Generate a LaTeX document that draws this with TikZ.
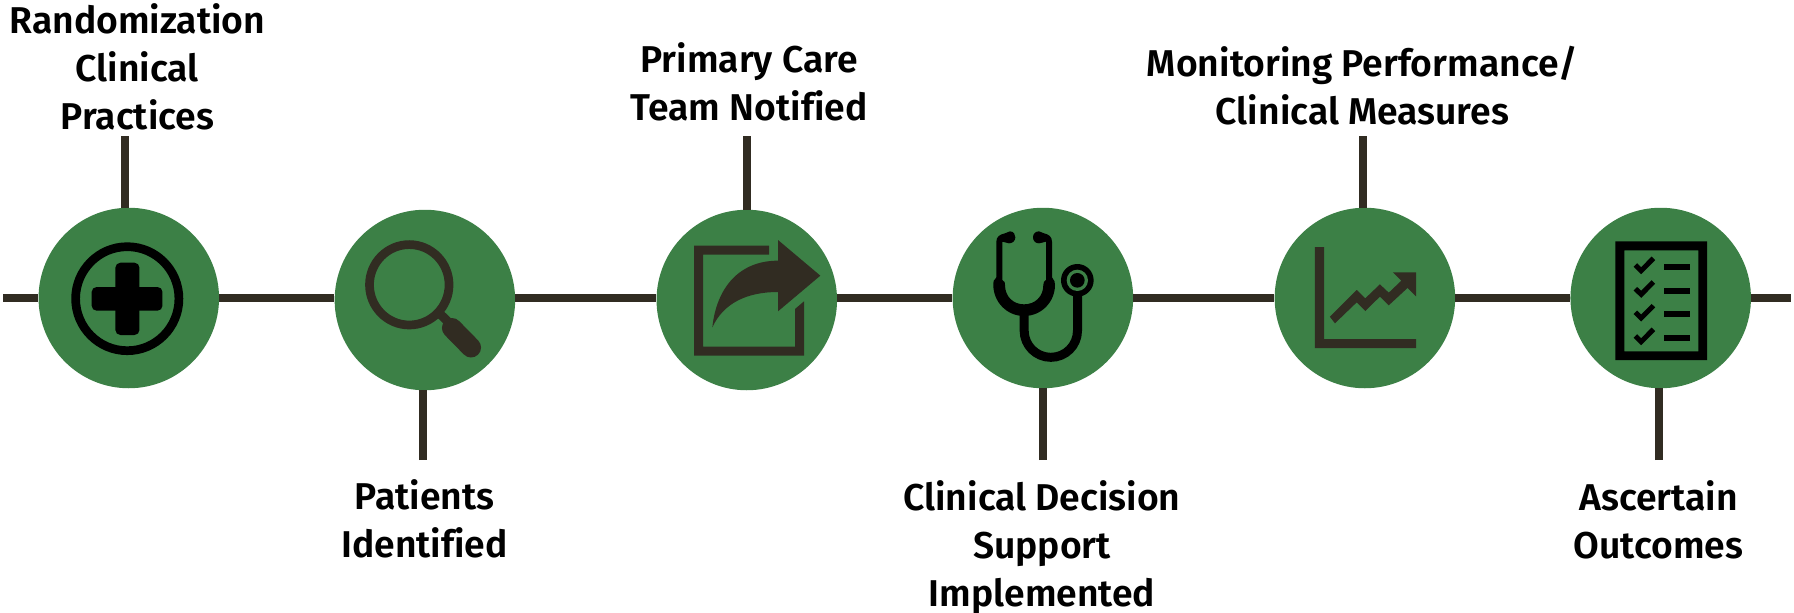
\documentclass[tikz,border=0pt]{standalone}
\usepackage{fontspec}
\setmainfont[Ligatures=NoCommon]{Fira Sans SemiBold}
\usetikzlibrary{shapes.geometric}
\definecolor{grn}{RGB}{60,128,70}
\definecolor{drk}{RGB}{49,44,34}
\tikzset{
  stop/.style={circle,fill=grn,inner sep=0pt,minimum size=180.5},
  conn/.style={draw=drk,line width=8pt,line cap=butt},
  lab/.style={align=center,inner sep=0pt,font=\fontsize{37.3}{48}\selectfont,text=black},
  drkfill/.style={fill=drk,draw=none},
  blkfill/.style={fill=black,draw=none}
}
\begin{document}
\begin{tikzpicture}[x=1pt,y=1pt,yscale=-1]
\useasboundingbox (0,0) rectangle (1794,613);
\node[stop] (c1) at (128.8,298) {};
\node[stop] (c2) at (424.9,300) {};
\node[stop] (c3) at (746.8,300) {};
\node[stop] (c4) at (1042.9,298) {};
\node[stop] (c5) at (1364.9,298) {};
\node[stop] (c6) at (1660.7,298) {};
\coordinate (ls) at (3,298);
\coordinate (le) at (1790.6,298);
\coordinate (t1) at (125,136);
\coordinate (t2) at (422.9,460);
\coordinate (t3) at (746.7,136);
\coordinate (t4) at (1042.7,460);
\coordinate (t5) at (1362.9,136);
\coordinate (t6) at (1658.7,460);
\draw[conn] (ls) -- (c1.west);
\draw[conn] (c1.east) -- (c1.east -| c2.west);
\draw[conn] (c1.east -| c2.east) -- (c1.east -| c3.west);
\draw[conn] (c1.east -| c3.east) -- (c4.west);
\draw[conn] (c4.east) -- (c5.west);
\draw[conn] (c5.east) -- (c6.west);
\draw[conn] (c6.east) -- (le);
\draw[conn] (t1) -- (t1 |- c1.north);
\draw[conn] (t2) -- (t2 |- c2.south);
\draw[conn] (t3) -- (t3 |- c3.north);
\draw[conn] (t4) -- (t4 |- c4.south);
\draw[conn] (t5) -- (t5 |- c5.north);
\draw[conn] (t6) -- (t6 |- c6.south);
\begin{scope}[xscale=1.033]
% icon 1: medical cross
\draw[black,line width=8.7pt] (123.2,298.7) ellipse [x radius=50,y radius=52];
\fill[black,rounded corners=5pt] (111.7,262.7) rectangle (135,335);
\fill[black,rounded corners=5pt] (88.7,287) rectangle (157.3,310.7);
% icon 2: magnifier
\draw[drk,line width=8.7pt] (396.2,284.8) ellipse [x radius=38.5,y radius=40.2];
\draw[drk,line width=9pt] (426,314) -- (437,325);
\draw[drk,line width=20pt,line cap=round] (437.5,328) -- (456,347.5);
\end{scope}
% icon 3: share
\begin{scope}[shift={(640,190)},scale=1/3]
\fill[drkfill] (387,167) -- (162,167) -- (162,497) -- (492,497) -- (492,334) -- (465,357) -- (465,470) -- (189,470) -- (189,194) -- (387,194) -- cycle;
\fill[drkfill] (414,150) -- (541,257) -- (414,364) -- (414,306) .. controls (320,306) and (250,340) .. (217,412) .. controls (230,290) and (300,212) .. (414,212) -- cycle;
% icon 4: stethoscope
\fill[blkfill] (1060,280) .. controls (1060,265) and (1069,270) .. (1069,262) -- (1069,155) .. controls (1069,140) and (1080,133) .. (1095,130) -- (1110,124) .. controls (1122,124) and (1126,135) .. (1126,142) .. controls (1126,152) and (1118,160) .. (1107,160) .. controls (1098,160) and (1095,155) .. (1087,155) -- (1087,270) .. controls (1095,272) and (1095,280) .. (1095,285) .. controls (1095,320) and (1120,343) .. (1152,343) .. controls (1185,343) and (1210,320) .. (1210,285) .. controls (1210,278) and (1212,272) .. (1218,270) -- (1218,155) .. controls (1210,155) and (1207,160) .. (1197,160) .. controls (1186,160) and (1179,152) .. (1179,142) .. controls (1179,132) and (1186,124) .. (1197,124) -- (1212,130) .. controls (1226,133) and (1236,140) .. (1236,155) -- (1236,262) .. controls (1236,270) and (1245,265) .. (1245,285) .. controls (1245,335) and (1205,378) .. (1152,378) .. controls (1100,378) and (1060,335) .. (1060,285) -- cycle;
\draw[black,line width=9pt] (1152.5,370) -- (1152.5,422) arc[start angle=180,end angle=0,radius=80] -- (1312.5,300);
\fill[black] (1312,271) circle[radius=49];
\fill[grn] (1312,271) circle[radius=32];
\fill[black] (1312,271) circle[radius=22];
\end{scope}
% icon 5: chart
\begin{scope}[shift={(1260,190)},xscale=1/2.936,yscale=1/3]
\fill[drkfill] (161,171) -- (188,171) -- (188,447) -- (458,447) -- (458,474) -- (161,474) -- cycle;
\fill[drkfill] (205,380) -- (284,300) -- (309,325) -- (352,283) -- (378,308) -- (415,272) -- (390,247) -- (458,247) -- (458,319) -- (433,294) -- (378,346) -- (352,320) -- (309,363) -- (284,337) -- (220,400) -- cycle;
% icon 6: checklist
\fill[blkfill,even odd rule] (1043,154) rectangle (1313,510) (1070,181) rectangle (1287,484);
\foreach \o in {0,71,142,213} {
  \draw[black,line width=5pt] (1102,225+\o) -- (1119,242+\o) -- (1155,205+\o);
  \fill[black] (1186,222+\o) rectangle (1263,240+\o);
}
\end{scope}
% labels
\node[lab] (l1) at (137.3,67) {Randomization\\Clinical\\Practices};
\node[lab] (l2) at (424.5,519) {Patients\\Identified};
\node[lab] (l3) at (749,81.5) {Primary Care\\Team Notified};
\node[lab] (l4) at (1042,547.5) {Clinical Decision\\Support\\Implemented};
\node[lab] (l5) at (1362.5,85.5) {Monitoring Performance/\\Clinical Measures};
\node[lab] (l6) at (1658.5,520) {Ascertain\\Outcomes};
\end{tikzpicture}
\end{document}
